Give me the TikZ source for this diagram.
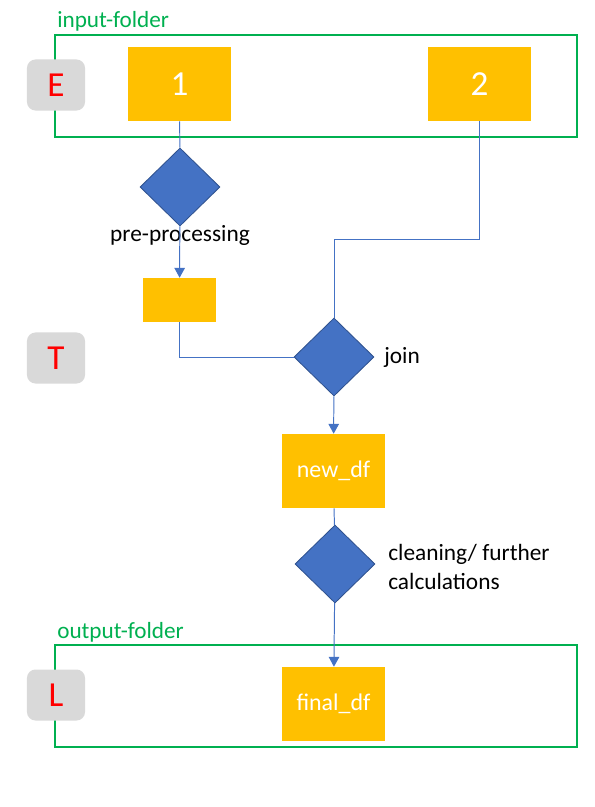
\documentclass[tikz,border=0pt]{standalone}
\usepackage{fontspec}
\setmainfont{Carlito}
\usetikzlibrary{shapes.geometric, arrows.meta}
\usetikzlibrary{calc, shapes}
\definecolor{dfyellow}{HTML}{FFC000}
\definecolor{stepblue}{HTML}{4472C4}
\definecolor{stepborder}{HTML}{2F528F}
\definecolor{foldergreen}{HTML}{00B050}
\definecolor{badgegray}{HTML}{D9D9D9}
\tikzstyle{folder} = [rectangle, minimum width=13.05cm, minimum height=2.55cm, draw=foldergreen, line width=1.4pt]
\tikzstyle{foldername} = [anchor=south west, inner sep=0pt, text=foldergreen, font=\fontsize{16.5}{19}\selectfont]
\tikzstyle{badge} = [rectangle, rounded corners=6pt, minimum width=1.45cm, minimum height=1.275cm, fill=badgegray, text=red, font=\fontsize{25}{28}\selectfont]
\tikzstyle{data} = [rectangle, minimum width=2.575cm, minimum height=1.85cm, fill=dfyellow, text=white, font=\fontsize{17}{20}\selectfont]
\tikzstyle{stepdiamond} = [diamond, aspect=1, inner sep=0pt, minimum width=2cm, minimum height=1.95cm, fill=stepblue, draw=stepborder, line width=0.6pt]
\tikzstyle{steplabel} = [font=\fontsize{16.6}{20}\selectfont, inner sep=0pt]
\tikzstyle{line} = [stepblue, line width=0.7pt]
\tikzstyle{arrow} = [line, -{Triangle[width=7.5pt, length=7pt]}]

\begin{document}
\begin{tikzpicture}[x=0.025cm, y=-0.025cm]
			\useasboundingbox (0,0) rectangle (594,807);
			% Extract
			\node(infolder)[folder] at (316,86) {};
			\node(inname)[foldername] at (57,32) {input-folder};
			\node(E)[badge] at (56,85) {E};
			\node(one)[data, font=\fontsize{25}{28}\selectfont] at (179.5,84) {1};
			\node(two)[data, font=\fontsize{25}{28}\selectfont] at (479.5,84) {2};
			% Transform
			\node(prep)[stepdiamond] at (180,187) {};
			\node(preplabel)[steplabel] at (180,235) {pre-processing};
			\node(prepped)[data, minimum width=1.825cm, minimum height=1.1cm] at (179.5,300) {};
			\node(T)[badge] at (56,358) {T};
			\node(join)[stepdiamond] at (334,357) {};
			\node(joinlabel)[steplabel, anchor=west] at (384,357) {join};
			\coordinate(bend) at (334,239);
			\node(newdf)[data] at (333.5,471) {new\_df};
			\node(clean)[stepdiamond] at (335,564) {};
			\node(cleanlabel)[steplabel, anchor=west, align=left] at (388,567) {cleaning/ further\\calculations};
			% Load
			\node(outfolder)[folder] at (316,696) {};
			\node(outname)[foldername] at (57,643) {output-folder};
			\node(L)[badge] at (56,695) {L};
			\node(finaldf)[data] at (333.5,704) {final\_df};

			\draw [line] (one) -- (prep);
			\draw [arrow] (prep) -- (prepped);
			\draw [line] (prepped.south) |- (join.west);
			\draw [line] (two.south) |- (bend) -- (join.north);
			\draw [arrow] (join) -- (newdf);
			\draw [line] (newdf) -- (clean);
			\draw [arrow] (clean) -- (finaldf);
\end{tikzpicture}
\end{document}
